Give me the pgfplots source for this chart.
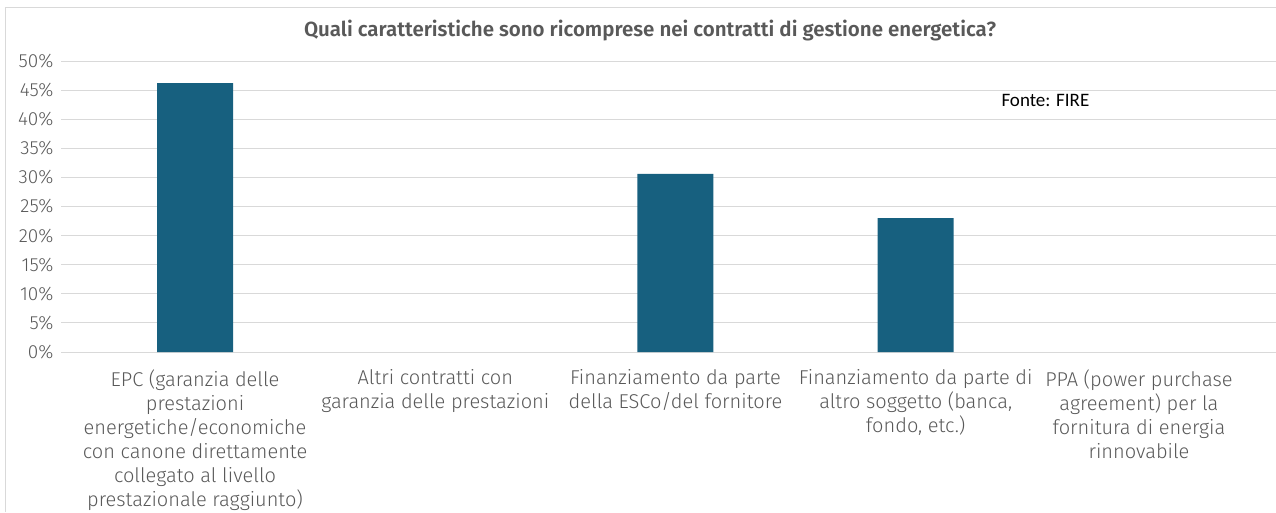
\documentclass[border=0pt]{standalone}
\usepackage{fontspec}
\setmainfont{Fira Sans Light}[BoldFont={Fira Sans SemiBold}]
\newfontfamily\calib{Carlito}
\usepackage{pgfplots}
\pgfplotsset{compat=1.18}
\definecolor{barc}{HTML}{17607F}
\definecolor{txt}{HTML}{595959}
\definecolor{gridc}{HTML}{D9D9D9}
\begin{document}
\begin{tikzpicture}
\useasboundingbox (0pt,0pt) rectangle (1276pt,-512pt);
\draw[gridc, line width=1pt] (5pt,-512pt) -- (5pt,-7pt) -- (1276pt,-7pt);
\node[font=\fontsize{20.5}{24}\selectfont\bfseries, text=txt] at (650pt,-31pt) {Quali caratteristiche sono ricomprese nei contratti di gestione energetica?};
\begin{axis}[
  at={(61pt,-352pt)}, anchor=south west,
  scale only axis, width=1215pt, height=291pt,
  xmin=-0.558, xmax=4.5, ymin=0, ymax=50,
  ytick={0,5,...,50},
  /pgf/number format/assume math mode=true,
  yticklabel={\pgfmathprintnumber{\tick}\%},
  xtick={0,1,2,3},
  xticklabels={
    {EPC (garanzia delle\\prestazioni\\energetiche/economiche\\con canone direttamente\\collegato al livello\\prestazionale raggiunto)},
    {Altri contratti con\\garanzia delle prestazioni},
    {Finanziamento da parte\\della ESCo/del fornitore},
    {Finanziamento da parte di\\altro soggetto (banca,\\fondo, etc.)}},
  extra x ticks={4},
  extra x tick labels={{PPA (power purchase\\agreement) per la\\fornitura di energia\\rinnovabile}},
  extra x tick style={xticklabel style={xshift=-17pt}},
  axis line style={draw=none},
  major tick length=0pt,
  ymajorgrids, grid style={gridc, line width=1pt},
  yticklabel style={font=\fontsize{19}{22}\selectfont, text=txt, anchor=east, xshift=-4pt},
  xticklabel style={font=\fontsize{20}{24}\selectfont, text=txt, align=center, anchor=north, yshift=-14pt},
  ybar, bar width=76pt,
  clip=false,
]
\addplot[fill=barc, draw=none] coordinates {(0,46.2) (2,30.6) (3,23.0)};
\node[font=\calib\fontsize{19}{22}\selectfont, text=black] at (axis cs:3.54,43.3) {Fonte: FIRE};
\end{axis}
\end{tikzpicture}
\end{document}
